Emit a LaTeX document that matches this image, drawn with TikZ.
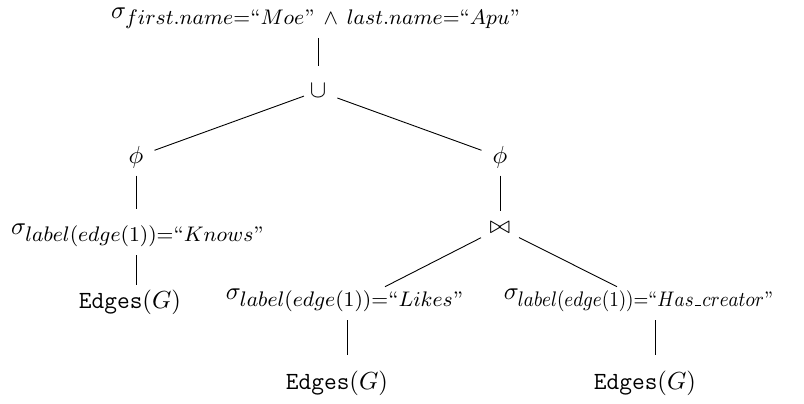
\RequirePackage{fix-cm}
\documentclass[tikz,border=0pt]{standalone}
\usepackage{amsmath}
\usepackage{graphicx}
\usetikzlibrary{calc}
\DeclareMathSizes{11}{11}{9.4}{7}
\newcommand{\shortus}{\text{\kern.06em\vbox{\hrule width .35em}\kern.06em}}
\begin{document}
\begin{tikzpicture}[x=0.01567cm,y=-0.01567cm,
  op/.style={inner sep=1pt, font=\fontsize{11}{13}\selectfont},
  edge/.style={line width=0.4pt}]
\useasboundingbox (0,0) rectangle (804,403);
\node[op] (sel) at (316,18) {$\sigma_{first.name=\text{``}Moe\text{''}\hspace{4pt}\wedge\hspace{4pt} last.name=\text{``}Apu\text{''}}$};
\node[op] (uni) at (318,91) {$\cup$};
\node[op] (phiL) at (136,157) {$\phi$};
\node[op] (phiR) at (500,157) {$\phi$};
\node[op] (knows) at (138,235) {$\sigma_{label(edge(1))=\text{``}Knows\text{''}}$};
\node[op] (join) at (500,228) {$\bowtie$};
\node[op] (eL) at (130,302) {$\texttt{Edges}(G)$};
\node[op] (likes) at (345,300) {$\sigma_{label(edge(1))=\text{``}Likes\text{''}}$};
\node[op] (has) at (639,300) {$\sigma_{\scalebox{0.88}[1]{$\scriptstyle label(edge(1))=\text{``}Has\shortus creator\text{''}$}}$};
\node[op] (eM) at (337,383) {$\texttt{Edges}(G)$};
\node[op] (eR) at (645,383) {$\texttt{Edges}(G)$};
\begin{scope}[edge]
\draw[shorten <=3pt, shorten >=6.7pt] (uni.north |- sel.south) -- (uni.north);
\draw[shorten <=1.5pt, shorten >=4pt] (uni) -- (phiL);
\draw[shorten <=4pt, shorten >=4pt] (uni) -- (phiR);
\draw[shorten <=2.2pt, shorten >=5pt] (phiL.south) -- (phiL.south |- knows.north);
\draw[shorten <=2.7pt, shorten >=1pt] (phiL.south |- knows.south) -- (phiL.south |- eL.north);
\draw[shorten <=2.2pt, shorten >=4pt] (phiR.south) -- (join.north);
\draw[shorten <=3pt] (join) -- ($(likes.north)+(40,1)$);
\draw[shorten <=3pt] (join) -- ($(has.north)+(-22,1)$);
\draw[shorten <=2.7pt, shorten >=5.8pt] ($(likes.south)+(2,0)$) -- ($(likes.south |- eM.north)+(2,0)$);
\draw[shorten <=2.7pt, shorten >=5.8pt] ($(has.south)+(16,0)$) -- ($(has.south |- eR.north)+(16,0)$);
\end{scope}
\end{tikzpicture}
\end{document}
